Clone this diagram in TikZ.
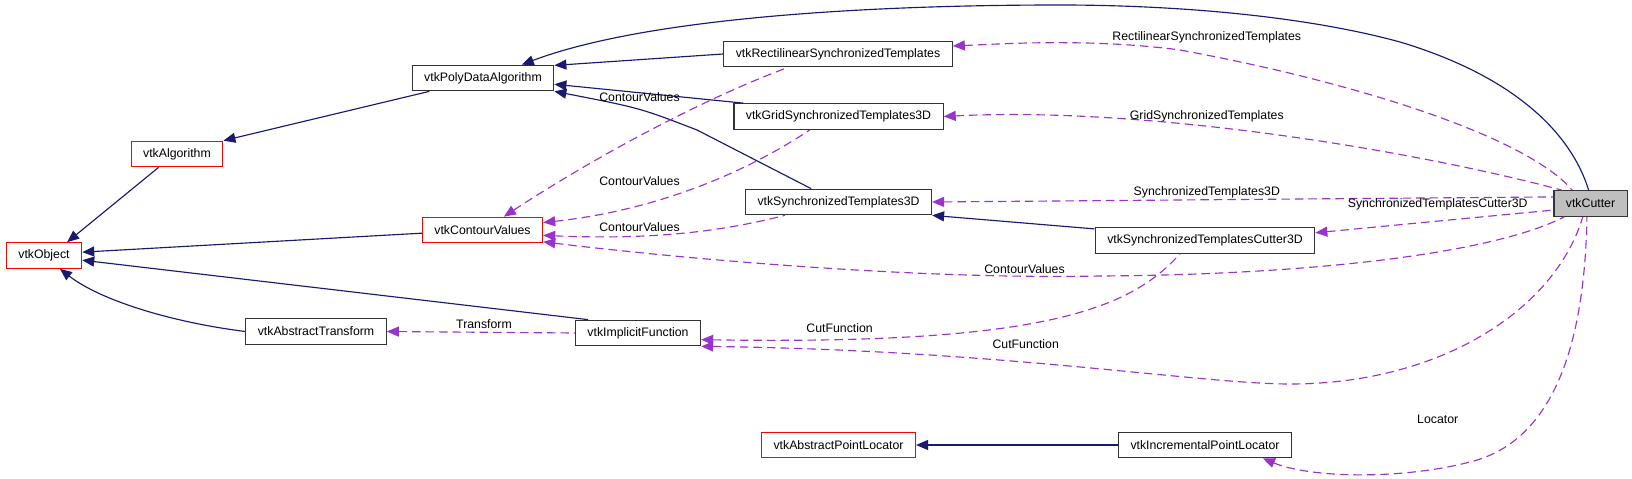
\documentclass[tikz,border=0pt]{standalone}
\usepackage{fontspec}
\setmainfont{Liberation Sans}
\definecolor{vtkNavy}{RGB}{25,25,112}
\definecolor{vtkOrchid}{RGB}{154,50,205}
\definecolor{vtkGray}{RGB}{191,191,191}
\usetikzlibrary{arrows.meta}

\begin{document}
\begin{tikzpicture}[x=0.02cm, y=-0.02cm,
    cls/.style={rectangle, draw=black!80, fill=white, line width=0.7pt,
                inner xsep=0.24cm, inner ysep=0pt, minimum height=0.51cm,
                font=\fontsize{7}{8}\selectfont},
    ext/.style={cls, draw=red},
    lbl/.style={inner sep=0pt, font=\fontsize{7}{8}\selectfont},
    inh/.style={{Triangle[length=0.24cm,width=0.2cm]}-, vtkNavy, line width=0.65pt},
    use/.style={{Triangle[length=0.24cm,width=0.2cm]}-, vtkOrchid,
                line width=0.65pt, dash pattern=on 0.17cm off 0.1cm}
  ]
  \useasboundingbox (0,0) rectangle (1632,479);

  \node[ext] (obj)    at (44,255.5)   {vtkObject};
  \node[ext] (alg)    at (177,154)    {vtkAlgorithm};
  \node[cls] (pda)    at (483,78)     {vtkPolyDataAlgorithm};
  \node[ext] (cval)   at (482.5,230)  {vtkContourValues};
  \node[cls] (atrans) at (316,331.5)  {vtkAbstractTransform};
  \node[cls] (rst)    at (838,54)     {vtkRectilinearSynchronizedTemplates};
  \node[cls] (gst)    at (838.5,116.5){vtkGridSynchronizedTemplates3D};
  \node[cls] (st3d)   at (838.5,202)  {vtkSynchronizedTemplates3D};
  \node[cls] (impl)   at (638,333)    {vtkImplicitFunction};
  \node[ext] (apl)    at (838.5,445)  {vtkAbstractPointLocator};
  \node[cls] (stc3d)  at (1205,240.5) {vtkSynchronizedTemplatesCutter3D};
  \node[cls] (ipl)    at (1205,445)   {vtkIncrementalPointLocator};
  \node[cls, fill=vtkGray] (cutter) at (1590.5,203.5) {vtkCutter};

  % inheritance
  \draw[inh] (obj.30) -- (alg.216);
  \draw[inh] (alg.north east) -- (pda.194);
  \draw[inh] (obj.5) -- (cval.183);
  \draw[inh] (obj.-7) -- (impl.165);
  \draw[inh] (obj.-40) .. controls (100,300) and (170,322) .. (atrans.west);
  \draw[inh] (pda.10) -- (rst.west);
  \draw[inh] (pda.-5) -- (gst.172);
  \draw[inh] (pda.south east) .. controls (640,108) .. (697,130) -- (st3d.154);
  \draw[inh] (pda.19) .. controls (640,20) and (850,5) .. (1060,5)
             .. controls (1150,5) and (1290,12) .. (1400,42)
             .. controls (1510,75) and (1570,130) .. (cutter.98);
  \draw[inh] (st3d.south east) -- (stc3d.174);
  \draw[inh] (apl.east) -- (ipl.west);

  % usage
  \draw[use] (rst.4) .. controls (1000,44) and (1090,38) .. (1180,50)
             .. controls (1370,85) and (1530,140) .. (cutter.144);
  \draw[use] (gst.east) .. controls (1150,106) and (1420,152) .. (cutter.155);
  \draw[use] (st3d.east) -- (cutter.170);
  \draw[use] (stc3d.4) -- (cutter.190);
  \draw[use] (cval.-11) .. controls (650,255) and (900,280) .. (1100,276)
             .. controls (1300,275) and (1490,255) .. (cutter.207);
  \draw[use] (impl.south east) .. controls (1000,350) and (1200,384) .. (1290,384)
             .. controls (1440,384) and (1555,310) .. (cutter.-120);
  \draw[use] (ipl.-13) .. controls (1310,478) and (1400,480) .. (1470,462)
             .. controls (1560,440) and (1585,330) .. (cutter.-105);
  \draw[use] (impl.-6) .. controls (1040,345) and (1130,310) .. (stc3d.208);
  \draw[use] (atrans.east) -- (impl.west);
  \draw[use] (cval.32) .. controls (590,160) and (700,100) .. (rst.195);
  \draw[use] (cval.7) .. controls (660,210) and (750,170) .. (gst.205);
  \draw[use] (cval.-5) .. controls (650,240) and (720,232) .. (st3d.194);

  \node[lbl] (lRst)    at (1206.8,37)  {RectilinearSynchronizedTemplates};
  \node[lbl] (lGst)    at (1206.8,116) {GridSynchronizedTemplates};
  \node[lbl] (lSt)     at (1206.8,192) {SynchronizedTemplates3D};
  \node[lbl] (lStc)    at (1437.7,204) {SynchronizedTemplatesCutter3D};
  \node[lbl] (lCvCut)  at (1024.5,269) {ContourValues};
  \node[lbl] (lCfCut)  at (1025.7,344) {CutFunction};
  \node[lbl] (lLoc)    at (1437.7,419) {Locator};
  \node[lbl] (lCfStc)  at (839.6,328)  {CutFunction};
  \node[lbl] (lTrans)  at (484,324)    {Transform};
  \node[lbl] (lCvRst)  at (639.5,97)   {ContourValues};
  \node[lbl] (lCvGst)  at (639.5,181)  {ContourValues};
  \node[lbl] (lCvSt)   at (639.5,227)  {ContourValues};
\end{tikzpicture}
\end{document}
